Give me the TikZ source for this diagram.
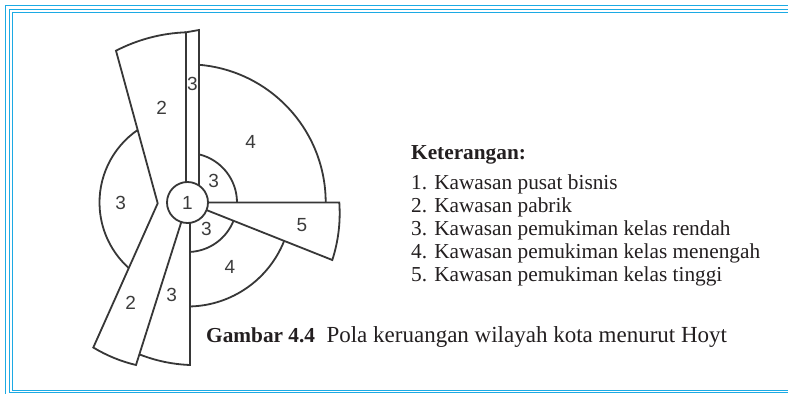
\documentclass[tikz,border=0pt]{standalone}
\usepackage{fontspec}
\setmainfont{Liberation Serif}
\newfontfamily\labelfont{Liberation Sans}
\definecolor{framecyan}{RGB}{28,170,228}
\definecolor{linegray}{RGB}{55,55,55}
\definecolor{labelgray}{RGB}{60,60,60}
\definecolor{textblack}{RGB}{35,31,32}
\begin{document}
\begin{tikzpicture}[x=1pt,y=-1pt,
  zone/.style={draw=linegray, line width=1.8pt, line join=miter},
  zlabel/.style={font=\labelfont\fontsize{19}{19}\selectfont, text=labelgray, inner sep=0pt},
  legend/.style={font=\fontsize{21.3}{24}\selectfont, text=textblack, anchor=base west, inner sep=0pt},
  legendbold/.style={legend, font=\bfseries\fontsize{21.3}{24}\selectfont},
  captiontext/.style={legend, font=\fontsize{23}{25}\selectfont},
  frameline/.style={draw=framecyan, line width=1.3pt}]
\useasboundingbox (0,0) rectangle (788,394);
\fill[white] (0,0) rectangle (788,394);
% frame
\draw[frameline] (5.5,394) -- (5.5,5.8) -- (788,5.8);
\draw[frameline] (9.3,392.3) -- (9.3,9.3) -- (788,9.3);
\draw[frameline] (9.3,392.3) -- (788,392.3);
\draw[frameline] (12.2,390.3) -- (12.2,12.6) -- (788,12.6);
\draw[frameline] (12.2,390.3) -- (788,390.3);
% centre
\coordinate (C) at (187.5,202.5);
\node[circle, draw=linegray, line width=1.8pt, minimum size=41pt, zlabel] (c1) at (C) {1};
% upper strip 3 and sector 2
\draw[zone] (186,182.05) -- (186,32.3) -- (199,30) -- (199,185.53);
\draw[zone] (186,32.3) .. controls (161.31,33.28) and (137.97,39.42) .. (116,50.7)
  -- (157.7,203.3) -- (93.3,347.5)
  .. controls (106.62,355.55) and (120.86,361.39) .. (136,365) -- (181.3,222.04);
% lower strip 3
\draw[zone] (139.34,354.34) .. controls (155.63,360.76) and (172.51,364.32) .. (190,365) -- (190,222.85);
% sector 5
\draw[zone] (208,202.5) -- (339.3,202.5) .. controls (340.67,222.12) and (338.33,241.28) .. (332.3,260) -- (206.55,210.07);
% arcs
\draw[zone] (C) ++(-85.23:138.2) arc[start angle=-85.23, end angle=0, radius=138.2];
\draw[zone] (C) ++(-76.57:49.5) arc[start angle=-76.57, end angle=0, radius=49.5];
\draw[zone] (C) ++(21.66:49.5) arc[start angle=21.66, end angle=87.1, radius=49.5];
\draw[zone] (C) ++(21.66:104) arc[start angle=21.66, end angle=88.62, radius=104];
\draw[zone] (C) ++(235.5:88) arc[start angle=235.5, end angle=131.96, radius=88];
% labels
\node[zlabel] (l2a) at (161.7,108.3) {2};
\node[zlabel] (l3s) at (192.5,84) {3};
\node[zlabel] (l4a) at (250.7,141.7) {4};
\node[zlabel] (l3a) at (213.7,181) {3};
\node[zlabel] (l3l) at (120.7,202.7) {3};
\node[zlabel] (l5) at (302,225.5) {5};
\node[zlabel] (l3b) at (206.3,228.7) {3};
\node[zlabel] (l4b) at (230,267.3) {4};
\node[zlabel] (l2b) at (130.7,303.3) {2};
\node[zlabel] (l3c) at (171.7,295) {3};
% legend
\node[legendbold] (ket) at (411,159) {Keterangan:};
\node[legend] (k1) at (411,189) {1. Kawasan pusat bisnis};
\node[legend] (k2) at (411,212) {2. Kawasan pabrik};
\node[legend] (k3) at (411,235) {3. Kawasan pemukiman kelas rendah};
\node[legend] (k4) at (411,258) {4. Kawasan pemukiman kelas menengah};
\node[legend] (k5) at (411,281) {5. Kawasan pemukiman kelas tinggi};
\node[captiontext] (cap) at (206,342) {{\fontsize{21.3}{24}\selectfont\textbf{Gambar 4.4}}\hspace{0.5em}Pola keruangan wilayah kota menurut Hoyt};
\end{tikzpicture}
\end{document}
